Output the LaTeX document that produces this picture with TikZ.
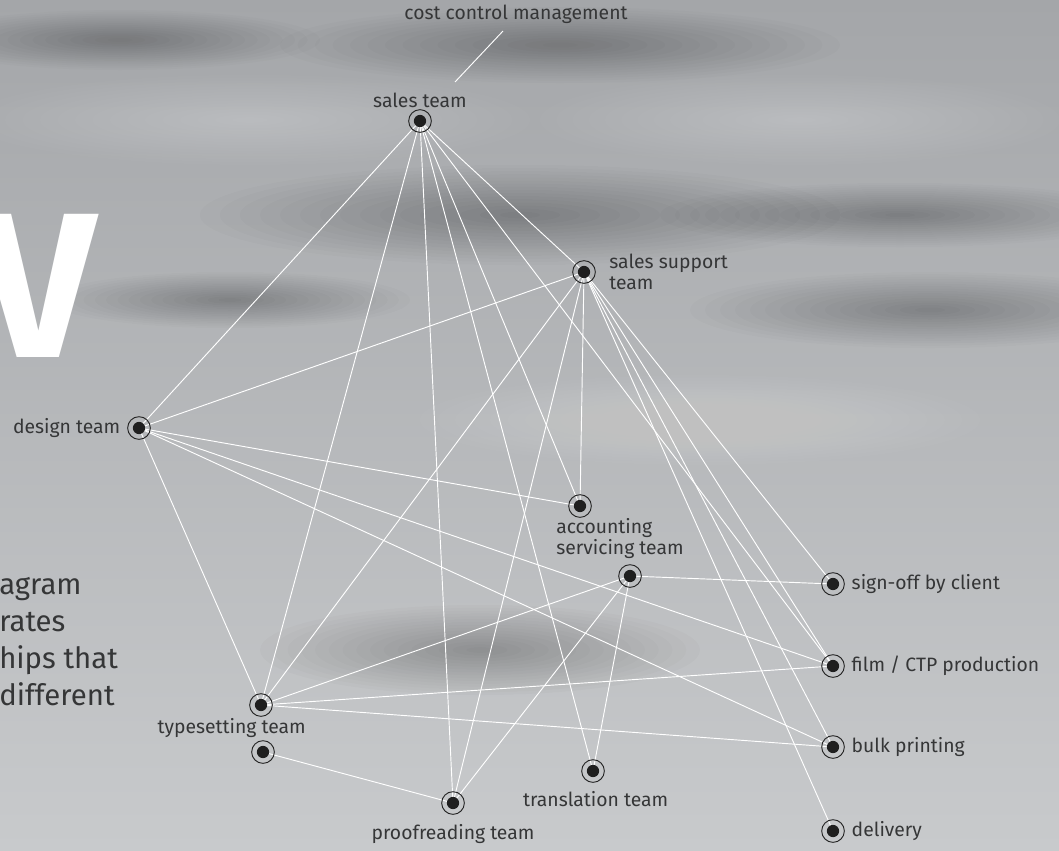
\documentclass[tikz,border=0pt]{standalone}
\usepackage{fontspec}
\setmainfont{Fira Sans}
\usetikzlibrary{positioning,backgrounds,calc}
\definecolor{inkGray}{HTML}{353637}
\definecolor{skyTop}{HTML}{A4A6A9}
\definecolor{skyLow}{HTML}{C8CACC}

\tikzset{
  hub/.style={circle, draw=black!85, line width=0.7pt, minimum size=17pt, inner sep=0pt,
    path picture={\fill[black!88] (path picture bounding box.center) circle (4.6pt);}},
  lbl/.style={font=\fontsize{14.5}{16}\selectfont, text=inkGray, inner sep=0pt, align=left},
  link/.style={white, line width=0.7pt}
}

\begin{document}
\begin{tikzpicture}[x=0.75pt, y=-0.75pt]
    \useasboundingbox (0,0) rectangle (1059,850);

    % teams
    \node[hub] (S) at (420,121) {};
    \node[hub] (SS) at (584,272) {};
    \node[hub] (D) at (139,428) {};
    \node[hub] (A) at (580,506) {};
    \node[hub] (Sv) at (630,576) {};
    \node[hub] (SO) at (833,584) {};
    \node[hub] (F) at (833,666) {};
    \node[hub] (B) at (833,747) {};
    \node[hub] (Del) at (833,831) {};
    \node[hub] (T) at (261,705) {};
    \node[hub] (T2) at (263,752) {};
    \node[hub] (Tr) at (593,771) {};
    \node[hub] (P) at (453,803) {};

    % labels
    \node[lbl] (cost) at (516,14) {cost control management};
    \node[lbl, above=1pt of S] (lblS) {sales team};
    \node[lbl, right=10pt of SS] (lblSS) {sales support\\team};
    \node[lbl, left=5pt of D] (lblD) {design team};
    \node[lbl, anchor=north west] (lblA) at ($(A.south)+(-24,0)$) {accounting\\servicing team};
    \node[lbl, right=5pt of SO] (lblSO) {sign-off by client};
    \node[lbl, right=5pt of F] (lblF) {film / CTP production};
    \node[lbl, right=5pt of B] (lblB) {bulk printing};
    \node[lbl, right=5pt of Del] (lblDel) {delivery};
    \node[lbl, below=1pt of T, xshift=-22pt] (lblT) {typesetting team};
    \node[lbl, below=6pt of Tr, xshift=2pt] (lblTr) {translation team};
    \node[lbl, below=7pt of P] (lblP) {proofreading team};
    \coordinate (costFoot) at (455,82);
    \coordinate (costHead) at (503,31);

    % big letter and side text
    \node[font=\bfseries\fontsize{155}{155}\selectfont, text=white, anchor=base east, inner sep=0pt] (bigV) at (97,357) {V};
    \node[font=\fontsize{22}{27.75}\selectfont, text=inkGray, anchor=north west, align=left, inner sep=0pt] (blurb) at (-1,577) {agram\\rates\\hips that\\different};

    \begin{scope}[on background layer]
      \shade[top color=skyTop, bottom color=skyLow] (0,0) rectangle (1059,850);
      % cloud streaks
      \foreach \cx/\cy/\rx/\ry/\tone in {520/215/320/50/black, 900/215/240/32/black, 930/310/240/38/black,
          560/45/280/38/black, 230/300/180/28/black, 480/650/220/45/black, 120/40/200/30/black,
          800/120/260/45/white, 250/120/280/45/white, 700/420/280/45/white, 700/770/320/65/white}
        \foreach \k in {1,...,16}
          \fill[\tone, opacity=0.016] (\cx,\cy) ellipse ({\rx*\k/16} and {\ry*\k/16});
      % relationships
      \foreach \u/\v in {S/D, S/T, S/P, S/Tr, S/A, S/F, S/SS,
          SS/D, SS/T, SS/P, SS/A, SS/SO, SS/F, SS/B, SS/Del,
          D/A, D/F, D/B, D/T, Sv/SO, Sv/T, Sv/P, Sv/Tr, T/F, T/B, T2/P}
        \draw[link] (\u.center) -- (\v.center);
      \draw[link] (costFoot) -- (costHead);
    \end{scope}
  \end{tikzpicture}
\end{document}
